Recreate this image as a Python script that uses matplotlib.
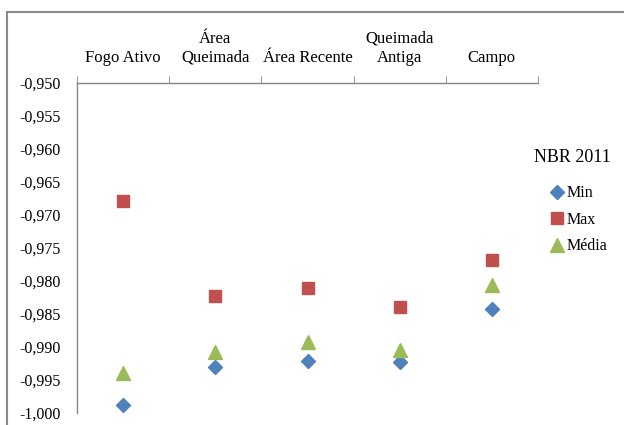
import matplotlib.pyplot as plt
from matplotlib.patches import Rectangle
from matplotlib.ticker import FixedLocator, FuncFormatter

# NBR 2011 statistics per land cover class
classes = ["Fogo Ativo", "Área\nQueimada", "Área Recente", "Queimada\nAntiga", "Campo"]
nbr_min = [-0.9988, -0.9930, -0.9921, -0.9922, -0.9842]
nbr_max = [-0.9679, -0.9822, -0.9810, -0.9839, -0.9768]
nbr_media = [-0.9939, -0.9907, -0.9892, -0.9904, -0.9806]

plt.rcParams['font.family'] = ['Liberation Serif', 'DejaVu Serif']

fig = plt.figure(figsize=(6.24, 4.25), dpi=100)
ax = fig.add_axes([77 / 624, 1 - 413 / 425, 461 / 624, 330 / 425])

x = range(len(classes))
ax.plot(x, nbr_min, linestyle='none', marker='D', markersize=7.5, color='#4F81BD', label='Min')
ax.plot(x, nbr_max, linestyle='none', marker='s', markersize=9, color='#C0504D', label='Max')
ax.plot(x, nbr_media, linestyle='none', marker='^', markersize=9.5, color='#9BBB59', label='Média')

ax.set_xlim(-0.5, len(classes) - 0.5)
ax.set_ylim(-1.0, -0.95)
ax.set_yticks([-1.0 + 0.005 * i for i in range(11)])
ax.yaxis.set_major_formatter(FuncFormatter(lambda v, p: f"{v:.3f}".replace('.', ',')))
ax.tick_params(axis='y', length=0, labelsize=11.5, pad=12, colors='black')

# category labels on top, ticks between categories
ax.xaxis.tick_top()
ax.set_xticks(list(x))
ax.set_xticklabels(classes, fontsize=12, linespacing=1.25)
ax.xaxis.set_minor_locator(FixedLocator([i - 0.5 for i in range(len(classes) + 1)]))
ax.tick_params(axis='x', which='major', length=0, pad=12.5)
ax.tick_params(axis='x', which='minor', length=5, color='#868686', direction='out', top=True, bottom=False)

for side in ['bottom', 'right']:
    ax.spines[side].set_visible(False)
for side in ['top', 'left']:
    ax.spines[side].set_color('#868686')
    ax.spines[side].set_linewidth(1.0)

# legend with its title set apart
fig.text(572 / 624, 1 - 157 / 425, 'NBR 2011', fontsize=13, ha='center', va='center')
fig.legend(loc='upper left', bbox_to_anchor=(543 / 624, 1 - 179 / 425), frameon=False,
           fontsize=11.5, handletextpad=0.1, labelspacing=0.65, handlelength=1.0, borderaxespad=0)

# chart border
fig.patches.append(Rectangle((7 / 624, -0.2), 1.2, 1.2 - 12 / 425, transform=fig.transFigure,
                             fill=False, edgecolor='#8a8a8a', linewidth=1.5))

fig.savefig('out.png', dpi=100)
